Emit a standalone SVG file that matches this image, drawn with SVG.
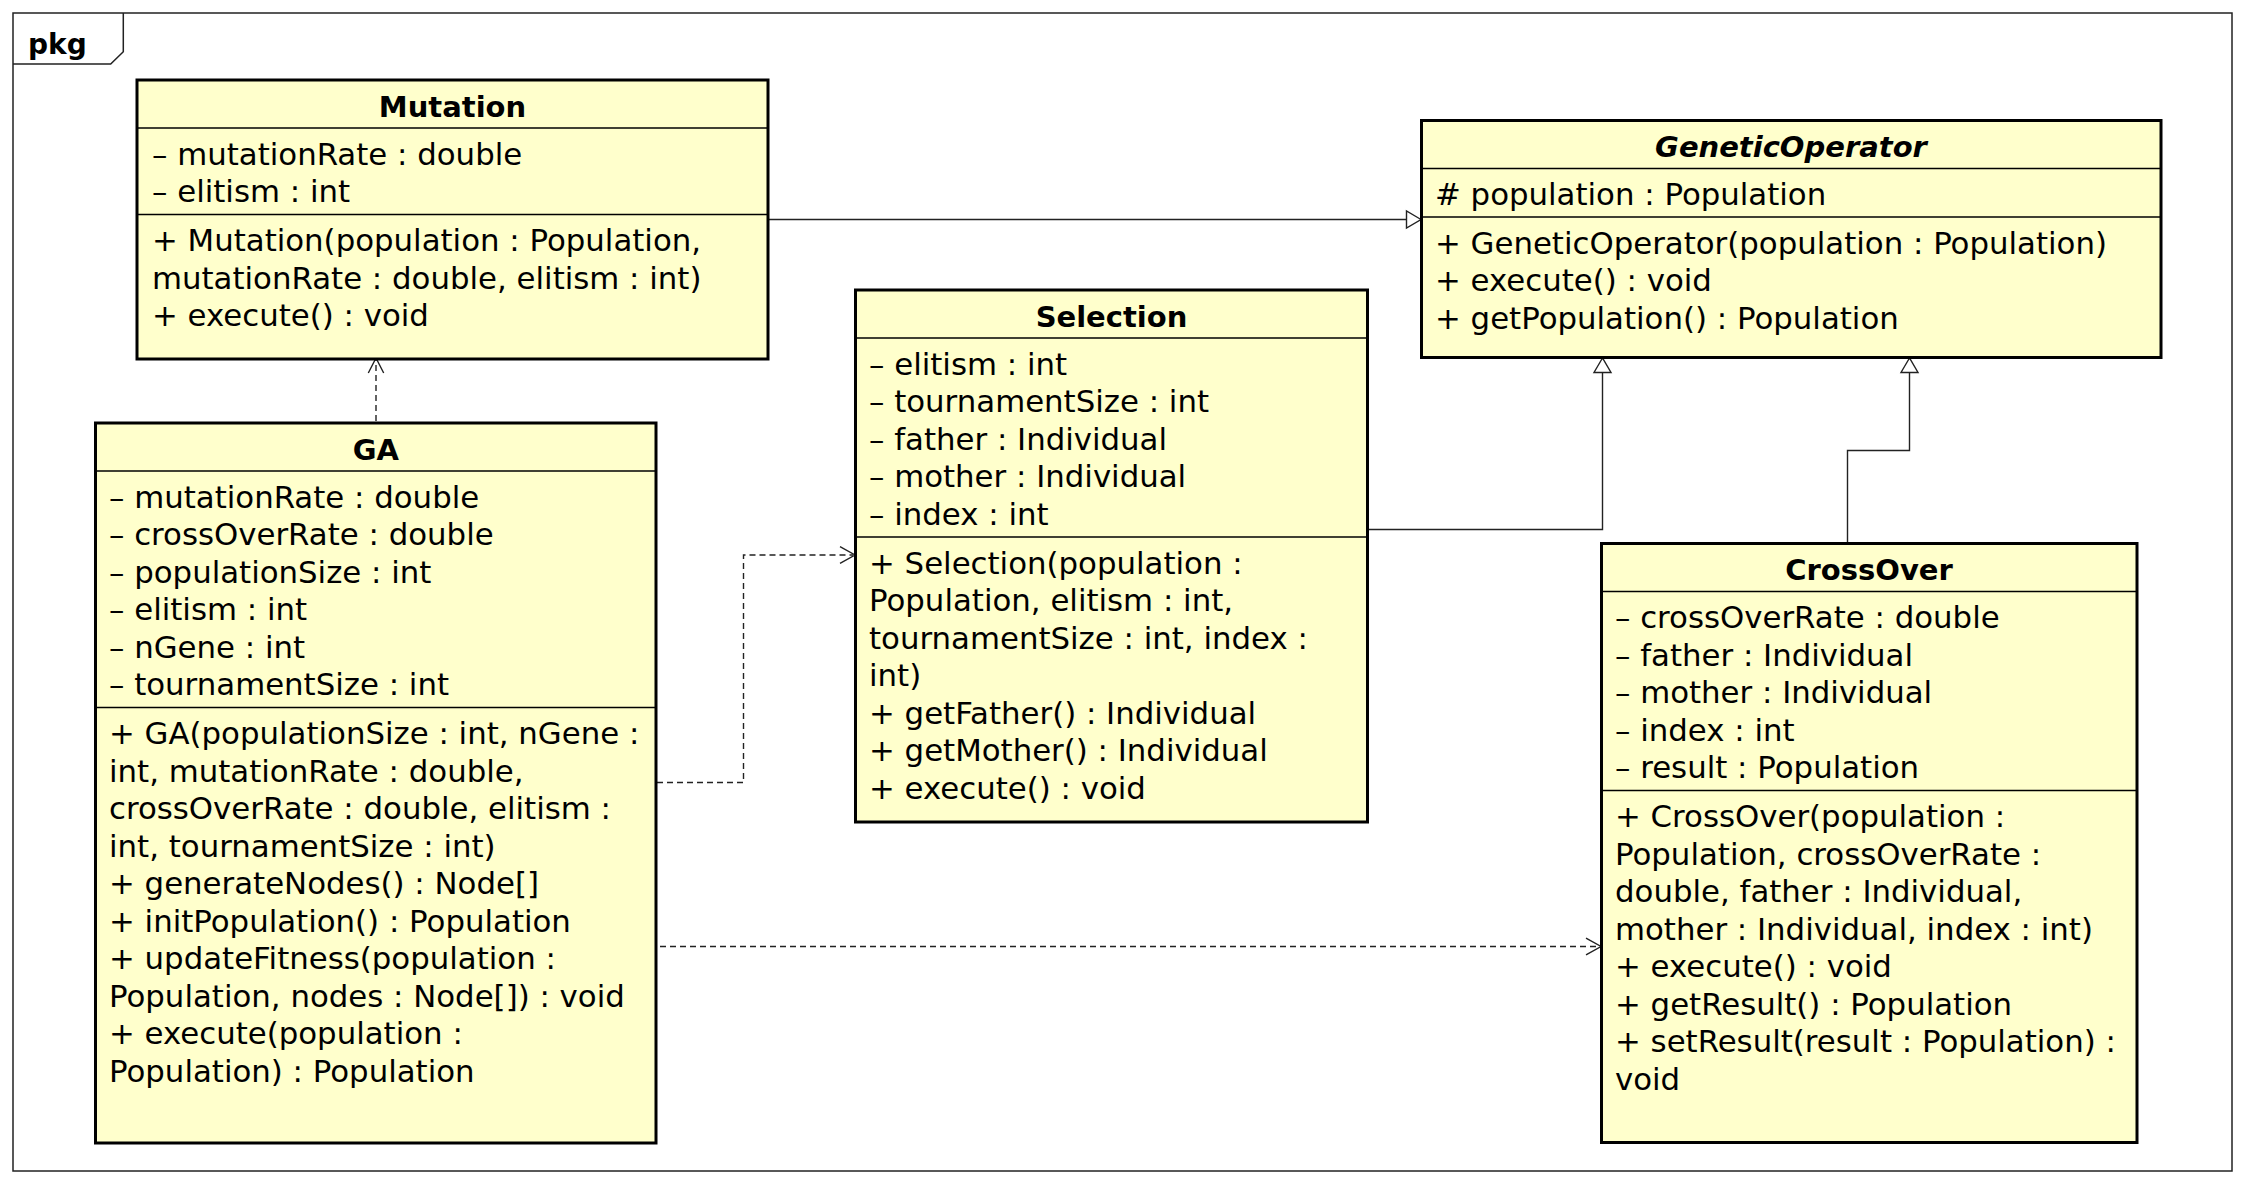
<svg xmlns="http://www.w3.org/2000/svg" width="2246" height="1185" viewBox="0 0 2246 1185">
<style>
.box{fill:#FFFFCC;stroke:#000;stroke-width:3}
.div{stroke:#000;stroke-width:1.5}
.t{font-family:"DejaVu Sans","Liberation Sans",sans-serif;font-size:30.8px;fill:#000}
.ti{font-family:"DejaVu Sans","Liberation Sans",sans-serif;font-size:29px;font-weight:bold;fill:#000;text-anchor:middle}
.it{font-style:italic}
.conn{fill:none;stroke:#222;stroke-width:1.4}
.dash{stroke-dasharray:6 4}
.tri{fill:#fff;stroke:#222;stroke-width:1.4}
.open{fill:none;stroke:#222;stroke-width:1.4}
</style>
<rect width="2246" height="1185" fill="#fff"/>
<g id="frame">
<rect x="13" y="13" width="2219" height="1158" fill="none" stroke="#222" stroke-width="1.5"/>
<path d="M13 64 H110.7 L123.3 51.7 V13" fill="none" stroke="#222" stroke-width="1.5"/>
<text x="28" y="53.5" style="font-family:'DejaVu Sans','Liberation Sans',sans-serif;font-size:28px;font-weight:bold">pkg</text>
</g>
<g id="connectors">
<line class="conn" x1="768" y1="219.5" x2="1407" y2="219.5"/>
<polygon class="tri" points="1421,219.5 1406.5,211 1406.5,228"/>
<polyline class="conn" points="1368,529.5 1602.5,529.5 1602.5,372.5"/>
<polygon class="tri" points="1602.5,358 1594,372.5 1611,372.5"/>
<polyline class="conn" points="1847.5,543 1847.5,450.5 1909.5,450.5 1909.5,372.5"/>
<polygon class="tri" points="1909.5,358 1901,372.5 1918,372.5"/>
<line class="conn dash" x1="376" y1="421" x2="376" y2="360"/>
<polyline class="open" points="368.3,373 376,358 383.7,373"/>
<polyline class="conn dash" points="657,782.5 743.5,782.5 743.5,555 853,555"/>
<polyline class="open" points="840,546.7 855,555 840,563.3"/>
<line class="conn dash" x1="660" y1="946.5" x2="1599" y2="946.5"/>
<polyline class="open" points="1586,938.2 1601,946.5 1586,954.8"/>
</g>
<g id="Mutation">
<rect class="box" x="137" y="80" width="631" height="279"/>
<line class="div" x1="137" y1="128" x2="768" y2="128"/>
<line class="div" x1="137" y1="214.5" x2="768" y2="214.5"/>
<text class="ti" x="452.5" y="116.5">Mutation</text>
<text class="t" x="152" y="164.5">– mutationRate : double</text>
<text class="t" x="152" y="202">– elitism : int</text>
<text class="t" x="152" y="251">+ Mutation(population : Population,</text>
<text class="t" x="152" y="288.5">mutationRate : double, elitism : int)</text>
<text class="t" x="152" y="326">+ execute() : void</text>
</g>
<g id="GeneticOperator">
<rect class="box" x="1421.5" y="120.5" width="739.5" height="237"/>
<line class="div" x1="1421.5" y1="168.5" x2="2161" y2="168.5"/>
<line class="div" x1="1421.5" y1="217" x2="2161" y2="217"/>
<text class="ti it" x="1791" y="157">GeneticOperator</text>
<text class="t" x="1435" y="205"># population : Population</text>
<text class="t" x="1435" y="253.5">+ GeneticOperator(population : Population)</text>
<text class="t" x="1435" y="291">+ execute() : void</text>
<text class="t" x="1435" y="328.5">+ getPopulation() : Population</text>
</g>
<g id="Selection">
<rect class="box" x="855.5" y="290" width="512" height="532"/>
<line class="div" x1="855.5" y1="338" x2="1367.5" y2="338"/>
<line class="div" x1="855.5" y1="537" x2="1367.5" y2="537"/>
<text class="ti" x="1111.5" y="326.5">Selection</text>
<text class="t" x="869" y="374.5">– elitism : int</text>
<text class="t" x="869" y="412">– tournamentSize : int</text>
<text class="t" x="869" y="449.5">– father : Individual</text>
<text class="t" x="869" y="487">– mother : Individual</text>
<text class="t" x="869" y="524.5">– index : int</text>
<text class="t" x="869" y="573.5">+ Selection(population :</text>
<text class="t" x="869" y="611">Population, elitism : int,</text>
<text class="t" x="869" y="648.5">tournamentSize : int, index :</text>
<text class="t" x="869" y="686">int)</text>
<text class="t" x="869" y="723.5">+ getFather() : Individual</text>
<text class="t" x="869" y="761">+ getMother() : Individual</text>
<text class="t" x="869" y="798.5">+ execute() : void</text>
</g>
<g id="GA">
<rect class="box" x="95.5" y="423" width="560.5" height="720"/>
<line class="div" x1="95.5" y1="471" x2="656" y2="471"/>
<line class="div" x1="95.5" y1="707.5" x2="656" y2="707.5"/>
<text class="ti" x="375.75" y="459.5">GA</text>
<text class="t" x="109" y="507.5">– mutationRate : double</text>
<text class="t" x="109" y="545">– crossOverRate : double</text>
<text class="t" x="109" y="582.5">– populationSize : int</text>
<text class="t" x="109" y="620">– elitism : int</text>
<text class="t" x="109" y="657.5">– nGene : int</text>
<text class="t" x="109" y="695">– tournamentSize : int</text>
<text class="t" x="109" y="744">+ GA(populationSize : int, nGene :</text>
<text class="t" x="109" y="781.5">int, mutationRate : double,</text>
<text class="t" x="109" y="819">crossOverRate : double, elitism :</text>
<text class="t" x="109" y="856.5">int, tournamentSize : int)</text>
<text class="t" x="109" y="894">+ generateNodes() : Node[]</text>
<text class="t" x="109" y="931.5">+ initPopulation() : Population</text>
<text class="t" x="109" y="969">+ updateFitness(population :</text>
<text class="t" x="109" y="1006.5">Population, nodes : Node[]) : void</text>
<text class="t" x="109" y="1044">+ execute(population :</text>
<text class="t" x="109" y="1081.5">Population) : Population</text>
</g>
<g id="CrossOver">
<rect class="box" x="1601.5" y="543.5" width="535.5" height="599"/>
<line class="div" x1="1601.5" y1="591.5" x2="2137" y2="591.5"/>
<line class="div" x1="1601.5" y1="790.5" x2="2137" y2="790.5"/>
<text class="ti" x="1869" y="580">CrossOver</text>
<text class="t" x="1615" y="628">– crossOverRate : double</text>
<text class="t" x="1615" y="665.5">– father : Individual</text>
<text class="t" x="1615" y="703">– mother : Individual</text>
<text class="t" x="1615" y="740.5">– index : int</text>
<text class="t" x="1615" y="778">– result : Population</text>
<text class="t" x="1615" y="827">+ CrossOver(population :</text>
<text class="t" x="1615" y="864.5">Population, crossOverRate :</text>
<text class="t" x="1615" y="902">double, father : Individual,</text>
<text class="t" x="1615" y="939.5">mother : Individual, index : int)</text>
<text class="t" x="1615" y="977">+ execute() : void</text>
<text class="t" x="1615" y="1014.5">+ getResult() : Population</text>
<text class="t" x="1615" y="1052">+ setResult(result : Population) :</text>
<text class="t" x="1615" y="1089.5">void</text>
</g>
</svg>
